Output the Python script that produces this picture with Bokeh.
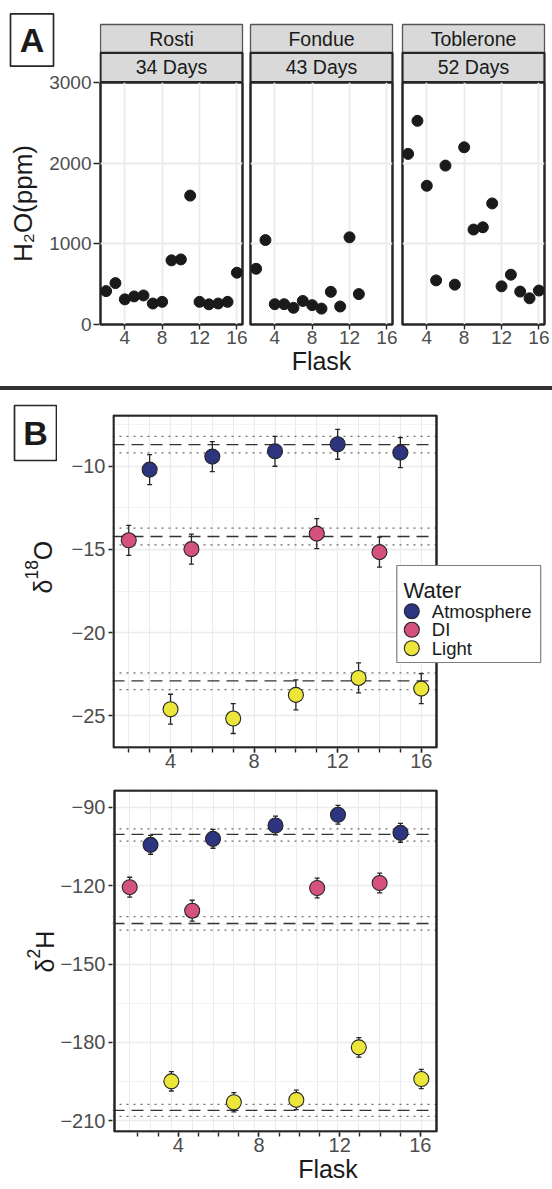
import math
from bokeh.plotting import figure
from bokeh.models import (Range1d, FixedTicker, Label, Span, Whisker, TeeHead, Div,
                          ColumnDataSource, LinearAxis, BoxAnnotation)
from bokeh.layouts import row, column
from bokeh.embed import file_html
from bokeh.resources import INLINE

FONT = "Liberation Sans"
INK = "#1A1A1A"
TICK_TXT = "#4D4D4D"
FRAME = "#262626"
GRID = "#EBEBEB"

# ---------------- data: panel A (H2O ppm per flask) ----------------
flask_rosti = [2, 3, 4, 5, 6, 7, 8, 9, 10, 11, 12, 13, 14, 15, 16]
h2o_rosti = [414, 513, 312, 348, 360, 260, 281, 795, 807, 1598, 281, 250, 260, 281, 642]
flask_fondue = [2, 3, 4, 5, 6, 7, 8, 9, 10, 11, 12, 13]
h2o_fondue = [691, 1047, 252, 252, 207, 292, 240, 197, 405, 223, 1081, 377]
flask_toblerone = [2, 3, 4, 5, 6, 7, 8, 9, 10, 11, 12, 13, 14, 15, 16]
h2o_toblerone = [2115, 2525, 1720, 547, 1970, 494, 2197, 1177, 1205, 1501, 473, 617, 408, 325, 421]
facet_names = ["Rosti", "Fondue", "Toblerone"]
facet_days = ["34 Days", "43 Days", "52 Days"]
h2o_ticks = [0, 1000, 2000, 3000]
flask_ticks = [4, 8, 12, 16]
flask_all = [2, 3, 4, 5, 6, 7, 8, 9, 10, 11, 12, 13, 14, 15, 16]

# ---------------- data: panel B (isotopes) ----------------
water_names = ["Atmosphere", "DI", "Light"]
water_colors = ["#2D3480", "#D5517F", "#EDE63A"]
flask_atm = [3, 6, 9, 12, 15]
flask_di = [2, 5, 11, 14]
flask_light = [4, 7, 10, 13, 16]

d18o_atm = [-10.2, -9.42, -9.1, -8.68, -9.18]
d18o_di = [-14.45, -14.98, -14.05, -15.16]
d18o_light = [-24.6, -25.16, -23.74, -22.72, -23.36]
d18o_err_atm = [0.9, 0.9, 0.9, 0.9, 0.9]
d18o_err_di = [0.9, 0.9, 0.9, 0.9]
d18o_err_light = [0.9, 0.9, 0.9, 0.9, 0.9]

d2h_atm = [-104.4, -102.1, -97.0, -92.9, -99.8]
d2h_di = [-120.6, -129.6, -120.9, -119.0]
d2h_light = [-194.9, -202.9, -202.0, -181.9, -194.0]
d2h_err_atm = [3.6, 3.6, 3.6, 3.6, 3.6]
d2h_err_di = [3.8, 4.0, 3.8, 3.8]
d2h_err_light = [3.7, 3.7, 3.7, 3.7, 3.7]

# reference (known) values: mean and +/- band, order = water_names
d18o_ref_mean = [-8.7, -14.22, -22.9]
d18o_ref_lo = [-9.2, -14.72, -23.42]
d18o_ref_hi = [-8.2, -13.72, -22.42]
d2h_ref_mean = [-100.4, -134.5, -206.0]
d2h_ref_lo = [-103.0, -137.0, -208.3]
d2h_ref_hi = [-98.3, -131.9, -203.7]

d18o_ticks = [-25, -20, -15, -10]
d18o_minor = [-22.5, -17.5, -12.5, -7.5]
d2h_ticks = [-210, -180, -150, -120, -90]
d2h_minor = [-195, -165, -135, -105]

EM = {"H": 0.722, "O": 0.778, "δ": 0.556, "1": 0.556, "8": 0.556, "2": 0.556}


def text_w(t, size):
    return sum(EM.get(c, 0.556) for c in t) * size


def style_axis(ax, size="19px", tick=4, standoff=1):
    ax.axis_line_color = None
    ax.major_tick_line_color = FRAME
    ax.major_tick_line_width = 1.4
    ax.major_tick_out = tick
    ax.major_tick_in = 0
    ax.minor_tick_line_color = None
    ax.major_label_standoff = standoff
    ax.major_label_text_font = FONT
    ax.major_label_text_font_size = size
    ax.major_label_text_color = TICK_TXT
    ax.axis_label_text_font = FONT
    ax.axis_label_text_font_size = "25px"
    ax.axis_label_text_font_style = "normal"
    ax.axis_label_text_color = INK
    ax.axis_label_standoff = 0


def minor_ticks_on(ax):
    ax.minor_tick_line_color = FRAME
    ax.minor_tick_line_width = 1.4
    ax.minor_tick_out = 4
    ax.minor_tick_in = 0


def box(p, **kw):
    kw.setdefault("line_alpha", 1)
    kw.setdefault("fill_alpha", 1)
    p.add_layout(BoxAnnotation(**kw))


def deco_fig(w, h):
    # plain drawing area: 1 data unit == 1 pixel, origin bottom-left
    f = figure(frame_width=w, frame_height=h, min_border=0, x_range=Range1d(0, w),
               y_range=Range1d(0, h), x_axis_location=None, y_axis_location=None,
               toolbar_location=None, output_backend="svg")
    f.grid.visible = False
    f.outline_line_color = None
    f.background_fill_color = "white"
    f.border_fill_color = "white"
    return f


def rotated_parts(p, parts, x0, y0):
    y = y0
    for text, size, shift in parts:
        p.add_layout(Label(x=x0 - shift, y=y, text=text,
                           angle=math.pi / 2, text_align="left", text_baseline="alphabetic",
                           text_font=FONT, text_font_size=f"{size}px", text_color=INK))
        y += text_w(text, size)


def box_letter(p, letter, left, right, top, bottom):
    box(p, left=left, right=right, top=top, bottom=bottom, fill_color="white",
        line_color=FRAME, line_width=1.7)
    p.add_layout(Label(x=(left + right) / 2, y=(top + bottom) / 2, text=letter,
                       text_font=FONT, text_font_size="34px", text_font_style="bold",
                       text_color=INK, text_align="center", text_baseline="middle"))


# ================= Panel A =================
A_LEFT = 99                       # width of the y-axis column
A_PANEL_X = [(100, 242), (250, 392), (402, 544)]
A_FIG_X = [(A_LEFT, 247), (247, 397), (397, 552)]
STRIP_H = 82                      # page top .. panel top
A_FH = 242                        # panel height
A_BB = 62                         # bottom border (axis + title)
A_YR = (0, 3000)
A_XR = (1.4, 16.6)
facet_data = [(flask_rosti, h2o_rosti), (flask_fondue, h2o_fondue),
              (flask_toblerone, h2o_toblerone)]

# left column: panel letter on top, shared y axis below
letterA = deco_fig(A_LEFT, 70)
box_letter(letterA, "A", 10, 53, 70 - 13.3, 70 - 65.7)

yaxA = figure(frame_width=1, frame_height=A_FH, min_border_left=A_LEFT - 1,
              min_border_right=0, min_border_top=STRIP_H - 70, min_border_bottom=A_BB,
              x_range=Range1d(0, 1), y_range=Range1d(*A_YR), x_axis_location=None,
              y_axis_location="left", toolbar_location=None, output_backend="svg")
yaxA.grid.visible = False
yaxA.outline_line_color = None
yaxA.background_fill_color = "white"
yaxA.border_fill_color = "white"
yaxA.yaxis.ticker = FixedTicker(ticks=h2o_ticks)
style_axis(yaxA.yaxis[0], "19px", tick=5, standoff=2)
yaxA.yaxis.major_tick_in = 1
yaxA.yaxis.axis_label = "H\u2082O(ppm)"
yaxA.yaxis.axis_label_text_font_size = "26px"
yaxA.yaxis.axis_label_standoff = 8

strips = []
plots = []
for i in range(3):
    fl, fr = A_FIG_X[i]
    pl, pr = A_PANEL_X[i]
    s = deco_fig(fr - fl, STRIP_H)
    sl, sr = pl - fl, pr - fl
    box(s, left=sl, right=sr, bottom=29.7, top=58, fill_color="#D9D9D9",
        line_color="#555555", line_width=1.3)
    box(s, left=sl, right=sr, bottom=0.5, top=29.7, fill_color="#D9D9D9",
        line_color=FRAME, line_width=2.2)
    s.add_layout(Label(x=(sl + sr) / 2, y=43.85, text=facet_names[i], text_align="center",
                       text_baseline="middle", text_font=FONT, text_font_size="19.5px",
                       text_color=INK))
    s.add_layout(Label(x=(sl + sr) / 2, y=15.1, text=facet_days[i], text_align="center",
                       text_baseline="middle", text_font=FONT, text_font_size="19.5px",
                       text_color=INK))
    strips.append(s)

    p = figure(frame_width=pr - pl, frame_height=A_FH, min_border_left=pl - fl,
               min_border_right=fr - pr, min_border_top=0, min_border_bottom=A_BB,
               x_range=Range1d(*A_XR), y_range=Range1d(*A_YR), y_axis_location=None,
               toolbar_location=None, output_backend="svg")
    p.background_fill_color = "white"
    p.border_fill_color = "white"
    p.outline_line_color = FRAME
    p.outline_line_width = 2.5
    p.xaxis.ticker = FixedTicker(ticks=flask_ticks)
    style_axis(p.xaxis[0], "19px", tick=5, standoff=1)
    p.xgrid.ticker = FixedTicker(ticks=flask_ticks)
    p.ygrid.ticker = FixedTicker(ticks=h2o_ticks)
    p.grid.grid_line_color = GRID
    p.grid.grid_line_width = 1.8
    if i == 1:
        p.xaxis.axis_label = "Flask"
    fx, fy = facet_data[i]
    p.scatter(fx, fy, size=11, fill_color=INK, line_color=INK)
    plots.append(p)

colA0 = column(row(letterA), row(yaxA))
colA1 = column(row(*strips), row(*plots))
sectionA = row(colA0, colA1)

# divider rule between the two panels
divider = Div(text="", width=552, height=4, margin=0,
              styles={"background-color": "#333333"})

# ================= Panel B =================
LEFT_B = 57
FRAME_L, FRAME_R = 109, 540
B_TOP = 390


def iso_fig(panel, xr, yr, top_b, bot_b):
    L, R, T, B = panel
    px = (R - L) / (xr[1] - xr[0])
    py = (B - T) / (yr[1] - yr[0])

    def fx(v):
        return xr[0] + (v - L) / px

    def fy(v):
        return yr[1] - (v - T) / py

    FT, FB = T - 1, B + 1
    p = figure(frame_width=FRAME_R - FRAME_L, frame_height=FB - FT,
               min_border_left=FRAME_L - LEFT_B, min_border_right=552 - FRAME_R,
               min_border_top=top_b, min_border_bottom=bot_b,
               x_range=Range1d(fx(FRAME_L), fx(FRAME_R)), y_range=Range1d(fy(FB), fy(FT)),
               toolbar_location=None, output_backend="svg")
    p.background_fill_color = "white"
    p.border_fill_color = "white"
    p.outline_line_color = None
    return p, fx, fy


def iso_layers(p, xr, yr, groups, ref_mean, ref_lo, ref_hi, ticks, minor, extra=None):
    p.xgrid.ticker = FixedTicker(ticks=flask_ticks, minor_ticks=flask_all)
    p.xgrid.grid_line_color = GRID
    p.xgrid.grid_line_width = 1.1
    p.xgrid.minor_grid_line_color = GRID
    p.xgrid.minor_grid_line_width = 1.1
    p.ygrid.ticker = FixedTicker(ticks=ticks, minor_ticks=minor)
    p.ygrid.grid_line_color = GRID
    p.ygrid.grid_line_width = 1.6
    p.ygrid.minor_grid_line_color = "#F2F2F2"
    p.ygrid.minor_grid_line_width = 1.0
    p.yaxis.ticker = FixedTicker(ticks=ticks)
    p.yaxis.major_label_overrides = {t: "\u2212" + str(abs(t)) for t in ticks}
    for m, lo, hi in zip(ref_mean, ref_lo, ref_hi):
        p.add_layout(Span(location=m, dimension="width", line_color="#333333",
                          line_width=1.3, line_dash="12 7", level="underlay"))
        for v in (lo, hi):
            p.add_layout(Span(location=v, dimension="width", line_color="#6E6E6E",
                              line_width=1.2, line_dash="2 5", level="underlay"))
    # blank everything outside the panel, then draw the panel border
    for kw in (dict(left=xr[1]), dict(right=xr[0]), dict(bottom=yr[1]), dict(top=yr[0])):
        box(p, fill_color="white", line_alpha=0, level="underlay", **kw)
    box(p, left=xr[0], right=xr[1], bottom=yr[0], top=yr[1], fill_alpha=0,
        line_color=FRAME, line_width=2.5, level="underlay")
    if extra is not None:
        extra(p)
    srcs = []
    for (fl, vals, errs), col in zip(groups, water_colors):
        src = ColumnDataSource(dict(x=fl, y=vals,
                                    lo=[v - e for v, e in zip(vals, errs)],
                                    hi=[v + e for v, e in zip(vals, errs)]))
        p.add_layout(Whisker(source=src, base="x", lower="lo", upper="hi",
                             line_color=FRAME, line_width=1.3, level="underlay",
                             upper_head=TeeHead(size=5, line_color=FRAME, line_width=1.3),
                             lower_head=TeeHead(size=5, line_color=FRAME, line_width=1.3)))
        srcs.append(src)
    for src, col in zip(srcs, water_colors):
        p.scatter(x="x", y="y", size=15, source=src, fill_color=col,
                  line_color=FRAME, line_width=1.1)


# --- upper isotope panel (d18O) ---
B1_PANEL = (110, 433, 415, 747)
B1_XR = (1.27, 16.73)
B1_YR = (-26.9, -6.95)
pb1, b1x, b1y = iso_fig(B1_PANEL, B1_XR, B1_YR, 414 - B_TOP, 32)
pb1.xaxis.ticker = FixedTicker(ticks=flask_ticks, minor_ticks=flask_all)
style_axis(pb1.xaxis[0], "20px", tick=4, standoff=1)
minor_ticks_on(pb1.xaxis[0])
style_axis(pb1.yaxis[0], "20px", tick=4, standoff=3)


def b1_legend_box(p):
    box(p, left=b1x(393.3), right=b1x(537.2), top=b1y(565), bottom=b1y(662),
        fill_color="white", line_color="#7F7F7F", line_width=1.2, level="underlay")


iso_layers(pb1, B1_XR, B1_YR,
           [(flask_atm, d18o_atm, d18o_err_atm), (flask_di, d18o_di, d18o_err_di),
            (flask_light, d18o_light, d18o_err_light)],
           d18o_ref_mean, d18o_ref_lo, d18o_ref_hi, d18o_ticks, d18o_minor,
           extra=b1_legend_box)

leg_key_py = [610.7, 629.3, 647.7]
pb1.scatter(x=[b1x(408.3)] * 3, y=[b1y(v) for v in leg_key_py], size=15,
            fill_color=water_colors, line_color=FRAME, line_width=1.1)
pb1.add_layout(Label(x=b1x(400), y=b1y(590), text="Water", text_font=FONT,
                     text_font_size="22px", text_color=INK, text_baseline="alphabetic"))
for name, v in zip(water_names, leg_key_py):
    pb1.add_layout(Label(x=b1x(428.3), y=b1y(v), text=name, text_font=FONT,
                         text_font_size="18.5px", text_color=INK, text_baseline="middle"))

# --- lower isotope panel (d2H) ---
B2_PANEL = (111, 433, 790, 1131)
B2_XR = (1.27, 16.73)
B2_YR = (-214.1, -83.6)
AX2 = (0.84, 16.8)   # flask scale of the printed axis under this panel
pb2, b2x, b2y = iso_fig(B2_PANEL, B2_XR, B2_YR, 789 - 780, 1189 - 1132)
pb2.xaxis.visible = False
ax_scale = (B2_PANEL[1] - B2_PANEL[0]) / (AX2[1] - AX2[0])
pb2.extra_x_ranges = {"ax": Range1d(AX2[0] + (FRAME_L - B2_PANEL[0]) / ax_scale,
                                    AX2[0] + (FRAME_R - B2_PANEL[0]) / ax_scale)}
ax2 = LinearAxis(x_range_name="ax", ticker=FixedTicker(ticks=flask_ticks, minor_ticks=flask_all))
style_axis(ax2, "20px", tick=4, standoff=1)
minor_ticks_on(ax2)
ax2.axis_label = "Flask"
pb2.add_layout(ax2, "below")
style_axis(pb2.yaxis[0], "20px", tick=4, standoff=3)
iso_layers(pb2, B2_XR, B2_YR,
           [(flask_atm, d2h_atm, d2h_err_atm), (flask_di, d2h_di, d2h_err_di),
            (flask_light, d2h_light, d2h_err_light)],
           d2h_ref_mean, d2h_ref_lo, d2h_ref_hi, d2h_ticks, d2h_minor)

# --- left strip of section B: panel letter and y titles ---
B_H = 1189 - B_TOP
leftB = deco_fig(LEFT_B, B_H)
box_letter(leftB, "B", 14, 56, B_H - (405 - B_TOP), B_H - (460 - B_TOP))
rotated_parts(leftB, [("δ", 25, 0), ("18", 17.5, 11), ("O", 25, 0)], 42.3,
              B_H - (593 - B_TOP))
rotated_parts(leftB, [("δ", 25, 0), ("2", 17.5, 11), ("H", 25, 0)], 44,
              B_H - (972 - B_TOP))

sectionB = row(leftB, column(pb1, pb2))

layout = column(sectionA, divider, sectionB)
open("out.html", "w").write(file_html(layout, INLINE, title="Flask water"))
